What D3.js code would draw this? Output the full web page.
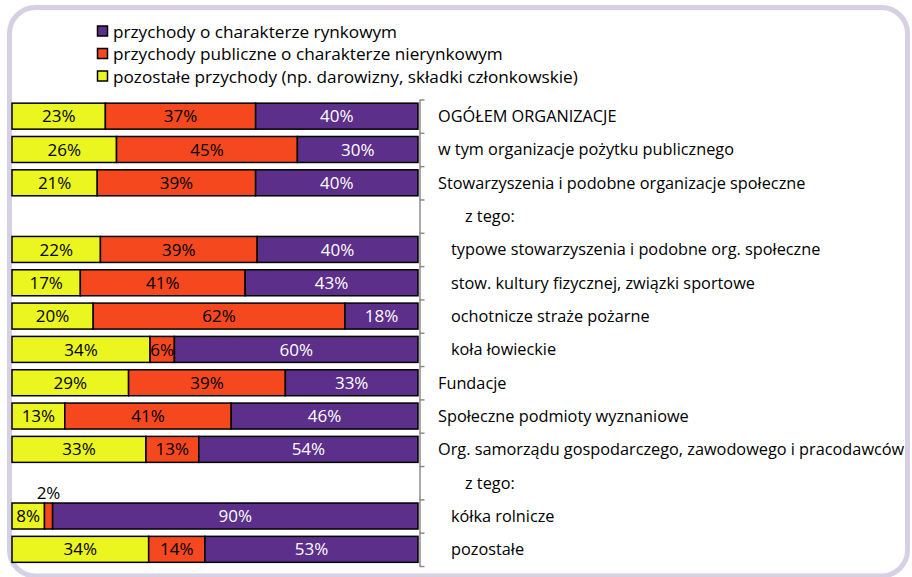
<!DOCTYPE html>
<html>
<head>
<meta charset="utf-8">
<script src="https://cdn.jsdelivr.net/npm/d3@7"></script>
<style>
  html, body { margin: 0; padding: 0; background: #ffffff; }
  svg { display: block; }
  text { font-family: "Open Sans", Lato, sans-serif; }
</style>
</head>
<body>
<svg id="chart" width="912" height="577"></svg>
<script>
// ---- data ----
const categories = [
  "OGÓŁEM ORGANIZACJE",
  "w tym organizacje pożytku publicznego",
  "Stowarzyszenia i podobne organizacje społeczne",
  "z tego:",
  "typowe stowarzyszenia i podobne org. społeczne",
  "stow. kultury fizycznej, związki sportowe",
  "ochotnicze straże pożarne",
  "koła łowieckie",
  "Fundacje",
  "Społeczne podmioty wyznaniowe",
  "Org. samorządu gospodarczego, zawodowego i pracodawców",
  "z tego:",
  "kółka rolnicze",
  "pozostałe"
];
const indentLevel = [0, 0, 0, 2, 1, 1, 1, 1, 0, 0, 0, 2, 1, 1];

const pozostale = [23, 26, 21, null, 22, 17, 20, 34, 29, 13, 33, null, 8, 34];
const publiczne = [37, 45, 39, null, 39, 41, 62, 6, 39, 41, 13, null, 2, 14];
const rynkowe   = [40, 30, 40, null, 40, 43, 18, 60, 33, 46, 54, null, 90, 53];

const seriesNames = [
  "pozostałe przychody (np. darowizny, składki członkowskie)",
  "przychody publiczne o charakterze nierynkowym",
  "przychody o charakterze rynkowym"
];
const seriesColors = ["#ebf51f", "#f5481f", "#5b2f8a"];
const labelColors = ["#000000", "#000000", "#ffffff"];
const legendOrder = [2, 1, 0];

// ---- build ----
const svg = d3.select("#chart");

// frame
svg.append("rect")
  .attr("x", 9.5).attr("y", 7.5)
  .attr("width", 898).attr("height", 568.5)
  .attr("rx", 26).attr("ry", 26)
  .attr("fill", "#ffffff")
  .attr("stroke", "#d7d0e5")
  .attr("stroke-width", 5);

const rows = categories.map((c, i) => ({ i, name: c, vals: [pozostale[i], publiczne[i], rynkowe[i]] }));

const y = d3.scaleBand()
  .domain(d3.range(categories.length))
  .range([99.5, 566])
  .paddingInner(0.22)
  .paddingOuter(0.11);

const x = d3.scaleLinear().domain([0, 100]).range([12, 418]);

const barRows = rows.filter(r => r.vals[0] != null);

const segs = [];
barRows.forEach(r => {
  const total = d3.sum(r.vals);
  let acc = 0;
  r.vals.forEach((v, k) => {
    const s0 = acc / total * 100;
    acc += v;
    const s1 = acc / total * 100;
    segs.push({ row: r.i, k, v, s0, s1 });
  });
});

const gBars = svg.append("g");
gBars.selectAll("rect")
  .data(segs)
  .join("rect")
  .attr("x", d => x(d.s0))
  .attr("y", d => y(d.row))
  .attr("width", d => x(d.s1) - x(d.s0))
  .attr("height", y.bandwidth())
  .attr("fill", d => seriesColors[d.k])
  .attr("stroke", "#000000")
  .attr("stroke-width", 1.5);

// labels
gBars.selectAll("text")
  .data(segs)
  .join("text")
  .attr("x", d => (x(d.s0) + x(d.s1)) / 2)
  .attr("y", d => d.v < 4 ? y(d.row) - 10 : y(d.row) + y.bandwidth() / 2)
  .attr("dy", "0.36em")
  .attr("text-anchor", "middle")
  .attr("font-size", 17)
  .attr("fill", d => d.v < 4 ? "#000000" : labelColors[d.k])
  .text(d => d.v + "%");

// axis on right of bars
const yPos = d3.scaleLinear().domain([0, categories.length]).range([99.5, 566]);
const axis = d3.axisRight(yPos)
  .tickValues(d3.range(categories.length + 1))
  .tickFormat("")
  .tickSize(5)
  .tickSizeOuter(0);
const gAxis = svg.append("g")
  .attr("transform", "translate(419.5,0)")
  .call(axis);
gAxis.select(".domain").attr("stroke", "#8c8c8c").attr("stroke-width", 1.5);
gAxis.selectAll(".tick line").attr("stroke", "#8c8c8c").attr("stroke-width", 1.5);

// category labels
const indentX = [438, 451, 465];
svg.append("g").selectAll("text")
  .data(rows)
  .join("text")
  .attr("x", d => indentX[indentLevel[d.i]])
  .attr("y", d => y(d.i) + y.bandwidth() / 2)
  .attr("dy", "0.36em")
  .attr("font-size", 16.3)
  .attr("fill", "#000000")
  .text(d => d.name);

// legend
const legend = svg.append("g");
legendOrder.forEach((k, j) => {
  const ly = 31.5 + j * 22.5;
  legend.append("rect")
    .attr("x", 97.5).attr("y", ly - 5.5)
    .attr("width", 10).attr("height", 10)
    .attr("fill", seriesColors[k])
    .attr("stroke", "#000000")
    .attr("stroke-width", 1.5);
  legend.append("text")
    .attr("x", 113).attr("y", ly)
    .attr("dy", "0.36em")
    .attr("font-size", 17.2)
    .attr("fill", "#000000")
    .text(seriesNames[k]);
});
</script>
</body>
</html>
